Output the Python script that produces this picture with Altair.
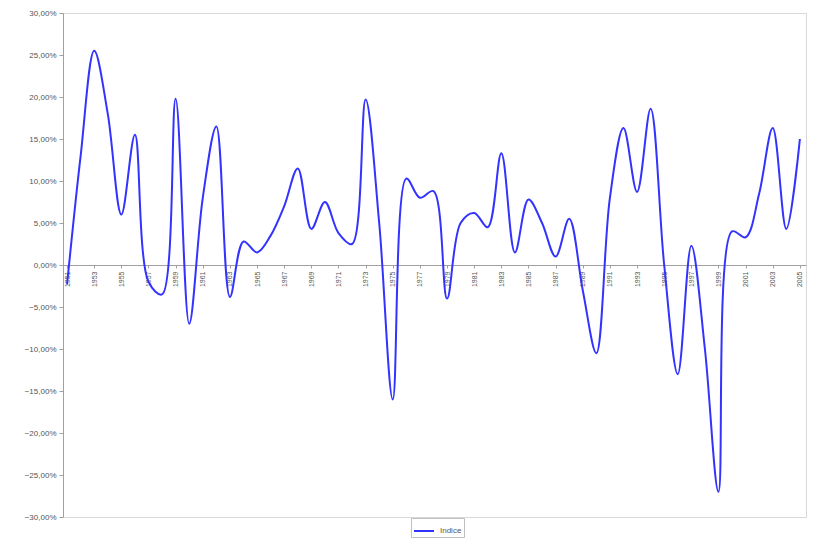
import altair as alt
import pandas as pd

years = list(range(1951, 2006))
values_pct = [
    -2.3, 13.0, 25.5, 18.0, 6.0, 15.5, -2.0, -3.5, 19.8, -7.0,
    8.0, 16.5, -3.8, 2.8, 1.5, 3.5, 7.0, 11.5, 4.3, 7.5,
    3.8, 2.5, 19.7, 5.0, -16.0, 10.3, 8.0, 8.8, -4.0, 5.0,
    6.2, 4.5, 13.3, 1.5, 7.8, 5.0, 1.0, 5.5, -3.0, -10.5,
    8.0, 16.3, 8.7, 18.6, 0.0, -13.0, 2.3, -10.0, -27.0, 4.0,
    3.3, 8.5, 16.3, 4.3, 15.0,
]
series_name = "Indice"
tick_years = list(range(1951, 2006, 2))
y_ticks = [-0.30, -0.25, -0.20, -0.15, -0.10, -0.05, 0.0, 0.05, 0.10, 0.15, 0.20, 0.25, 0.30]

df = pd.DataFrame({
    "year": years,
    "value": [v / 100 for v in values_pct],
    "series": [series_name] * len(years),
})

W, H = 743, 504
font = "Liberation Sans"

chart = alt.Chart(df).mark_line(
    interpolate="catmull-rom", strokeWidth=2
).encode(
    x=alt.X(
        "year:Q",
        scale=alt.Scale(domain=[1950.7, 2005.45], nice=False, zero=False),
        axis=alt.Axis(
            values=tick_years, format="d", labelAngle=270, offset=-H / 2,
            grid=False, title=None, labelFontSize=7, labelColor="#555555",
            labelFont=font, domainColor="#a0a0a0", tickColor="#a0a0a0",
            tickSize=3, labelPadding=3, labelOverlap=False, labelFlush=False,
        ),
    ),
    y=alt.Y(
        "value:Q",
        scale=alt.Scale(domain=[-0.3, 0.3], nice=False),
        axis=alt.Axis(
            values=y_ticks, grid=False, title=None,
            labelExpr="replace(format(datum.value, '.2%'), '.', ',')",
            labelFontSize=8, labelColor="#555555", labelFont=font,
            domainColor="#a0a0a0", tickColor="#a0a0a0", tickSize=4,
            labelPadding=3,
        ),
    ),
    color=alt.Color(
        "series:N",
        scale=alt.Scale(domain=[series_name], range=["#3333ff"]),
        legend=alt.Legend(
            title=None, orient="none", legendX=348, legendY=505,
            direction="horizontal", symbolType="stroke", symbolStrokeWidth=2,
            symbolSize=400, labelFontSize=8, labelFont=font, labelColor="#555555",
            labelOffset=5, strokeColor="#c0c0c0", padding=2, fillColor="white",
        ),
    ),
).properties(
    width=W, height=H,
    autosize=alt.AutoSizeParams(type="none"),
    padding={"left": 55, "top": 5, "right": 1, "bottom": 25},
    background="white",
).configure_view(stroke="#d8d8d8", strokeWidth=1)

chart.save("out.html", embed_options={"renderer": "svg", "actions": False})
